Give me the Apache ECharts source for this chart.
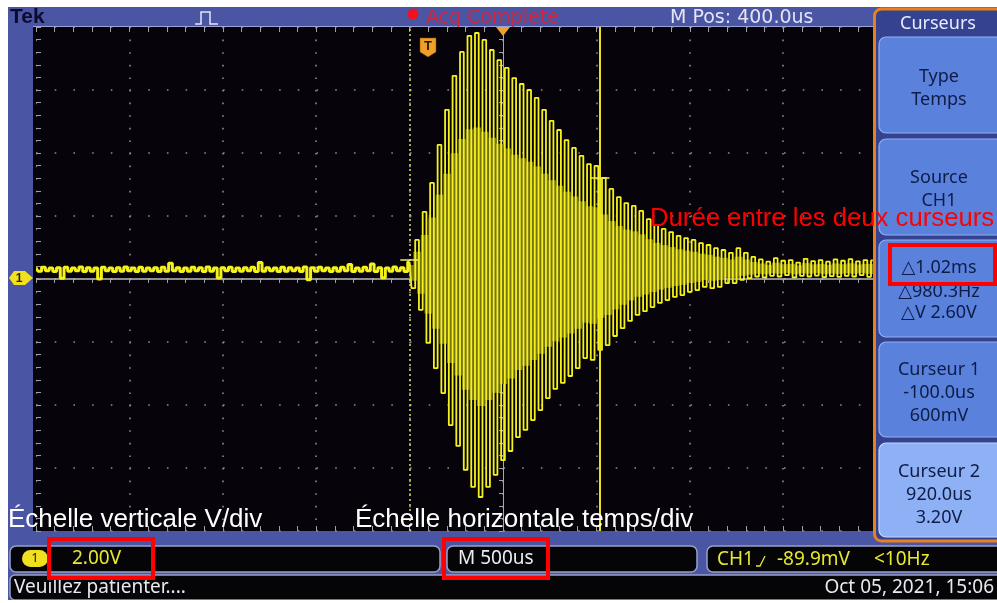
<!DOCTYPE html>
<html><head><meta charset="utf-8">
<script src="https://cdn.jsdelivr.net/npm/echarts@6/dist/echarts.min.js"></script>
<style>html,body{margin:0;padding:0;background:#fff;overflow:hidden}#c{width:997px;height:603px}</style>
</head><body><div id="c"></div>
<script>
// ---- acquisition (CH1, 2.00 V/div, 500 us/div, M Pos 400.0 us) ----
const sampleStartUs = -2100;
const sampleStepUs = 20;
const preTriggerVolts = [
 0.36,0.25,0.37,0.26,0.35,0.24,0.36,0.02,0.37,0.25,0.35,0.26,0.38,0.24,0.36,0.25,0.35,0.00,0.37,0.26,
 0.35,0.24,0.36,0.25,0.38,0.26,0.35,0.24,0.37,0.25,0.35,0.26,0.36,0.24,0.37,0.25,0.50,0.26,0.36,0.24,
 0.35,0.25,0.37,0.26,0.36,0.24,0.38,0.25,0.35,0.03,0.36,0.26,0.37,0.24,0.35,0.25,0.36,0.26,0.37,0.24,
 0.52,0.25,0.36,0.26,0.35,0.24,0.37,0.25,0.36,0.26,0.35,0.24,0.38,-0.02,0.36,0.25,0.37,0.26,0.35,0.24,
 0.36,0.25,0.37,0.26,0.46,0.24,0.35,0.25,0.37,0.26,0.48,0.24,0.36,0.04,0.35,0.25,0.38,0.26,0.36,0.24];
const burstVolts = [
 0.54,-0.29,1.24,-0.98,2.13,-2.03,3.05,-2.83,4.26,-3.62,
 5.37,-4.64,6.45,-5.30,7.21,-6.06,7.72,-6.60,7.81,-6.92,
 7.59,-6.60,7.27,-6.22,6.95,-5.75,6.70,-5.46,6.38,-5.02,
 6.19,-4.79,6.00,-4.48,5.75,-4.16,5.37,-3.78,5.02,-3.49,
 4.73,-3.30,4.41,-3.08,4.16,-2.83,3.91,-2.51,3.65,-2.57,
 3.59,-2.25,3.21,-2.10,2.86,-1.81,2.60,-1.56,2.41,-1.33,
 2.32,-1.14,2.16,-1.02,1.90,-0.89,1.71,-0.76,1.59,-0.67,
 1.49,-0.57,1.37,-0.51,1.30,-0.41,1.24,-0.35,1.14,-0.25,
 1.08,-0.29,0.98,-0.25,0.92,-0.13,0.83,-0.13,0.98,-0.03,
 0.83,0.03,0.70,
 0.08,0.62,0.05,0.55,0.10,0.66,0.08,0.58,0.12,0.60,0.05,0.52,0.10,0.64,0.08,0.57,
 0.11,0.60,0.06,0.55,0.09,0.62,0.07,0.58,0.10,0.63,0.08,0.56,0.12,0.60,0.07,0.59];
const cursorTimesUs = [-100, 920];
const cursorVolts = [0.6, 3.2];
const timeRangeUs = [-2100, 2900];
const voltRange = [-8, 8];
const divRange = [-5, 5];

// ---- texts ----
const panelTitle = 'Curseurs';
const panelButtons = [
  ['Type','Temps'],
  ['Source','CH1'],
  ['\u25B31.02ms','\u25B3980.3Hz','\u25B3V 2.60V'],
  ['Curseur 1','-100.0us','600mV'],
  ['Curseur 2','920.0us','3.20V']
];

const ch1Volts = preTriggerVolts.concat(burstVolts);
const ch1 = ch1Volts.map((v,i)=>[sampleStartUs + i*sampleStepUs, v]);
const nPre = preTriggerVolts.length;
const ch1Pre = ch1.slice(0, nPre + 1);
const ch1Burst = ch1.slice(nPre);
const bandData = [];
for (let i = nPre; i < ch1.length-1; i++) {
  bandData.push([ch1[i][0], ch1[i+1][0], ch1[i][1], ch1[i+1][1]]);
}

const UI = "'Noto Sans','DejaVu Sans',sans-serif";
const ARIAL = "'Liberation Sans',Arial,sans-serif";
const DV = "'DejaVu Sans',sans-serif";
function txt(text,x,y,font,fill,align,z){return {type:'text',z:z||120,silent:true,style:{text:text,x:x,y:y,font:font,fill:fill,textAlign:align||'left',textVerticalAlign:'middle'}};}
function rect(x,y,w,h,fill,stroke,lw,r,z){return {type:'rect',z:z||110,silent:true,shape:{x:x,y:y,width:w,height:h,r:r||0},style:{fill:fill||'none',stroke:stroke||null,lineWidth:lw||0}};}

const g = [];
// white margins
g.push(rect(0,0,997,7,'#ffffff',null,0,0,300));
g.push(rect(0,0,8,603,'#ffffff',null,0,0,300));
g.push(rect(0,600,997,3,'#ffffff',null,0,0,300));
// black strip left of grid
g.push(rect(33,27,3,504,'#06040a',null,0,0,5));
g.push({type:'line',z:110,silent:true,shape:{x1:33,y1:26.5,x2:874,y2:26.5},style:{stroke:'#9aa2d8',lineWidth:1}});
// top bar
g.push(txt('Tek',10,17,'bold 21px '+ARIAL,'#0b0b2c'));
g.push({type:'polyline',z:120,silent:true,shape:{points:[[195,24],[201,24],[201,12],[210,12],[210,24],[218,24]]},style:{stroke:'#e6e6f4',lineWidth:1.5,fill:null}});
g.push({type:'circle',z:120,silent:true,shape:{cx:413,cy:14,r:5.5},style:{fill:'#f01020'}});
g.push(txt('Acq Complete',426,18,'19px '+DV,'#d0263e'));
g.push(txt('M Pos: 400.0us',670,18,'19px '+DV,'#e4e4f4'));
// trigger markers
g.push({type:'polygon',z:120,silent:true,shape:{points:[[496,27],[510,27],[503,36]]},style:{fill:'#f0a030'}});
g.push({type:'polygon',z:120,silent:true,shape:{points:[[420,38],[436,38],[436,52],[428,57],[420,52]]},style:{fill:'#f0a028',stroke:'#7a4a00',lineWidth:0.5}});
g.push(txt('T',428,46,'bold 13px '+ARIAL,'#2a1800','center'));
// ground marker
g.push({type:'polygon',z:120,silent:true,shape:{points:[[14,271],[25,271],[33,278],[25,285],[14,285],[9,278]]},style:{fill:'#f0e020'}});
g.push(txt('1',19,278.5,'bold 12px '+ARIAL,'#2a2800','center'));
// side panel
g.push(rect(874.5,9,130,532,'#34428f','#e8801c',3,7,110));
g.push(txt(panelTitle,938,24,'18px '+UI,'#e8ecff','center'));
const btnY = [[37,96],[139,96],[240,97],[342,95],[443,94]];
const lineY = [[77,100],[178,201],[268,292,313],[370,393,416],[472,495,518]];
panelButtons.forEach((lines,b)=>{
  g.push(rect(879,btnY[b][0],125,btnY[b][1],b===4?'#8eb1f5':'#5a82dc',b===4?'#c4d6ff':'#92b0f4',1.2,7,111));
  lines.forEach((s,j)=>g.push(txt(s,939,lineY[b][j],'18px '+UI,'#0e1c46','center')));
});
// bottom status rows
g.push(rect(10,546,430,26,'#050508','#9aa0c8',1.5,6));
g.push(rect(22,550,26,17,'#f0e020',null,0,8.5,115));
g.push(txt('1',35,558.5,'13px '+UI,'#202000','center'));
g.push(txt('2.00V',72,559,'19px '+UI,'#e8e830'));
g.push(rect(447,546,250,26,'#050508','#9aa0c8',1.5,6));
g.push(txt('M 500us',458,559,'19px '+UI,'#ececf4'));
g.push(rect(707,546,300,26,'#050508','#9aa0c8',1.5,6));
g.push(txt('CH1',717,560,'19px '+UI,'#e8e830'));
g.push({type:'polyline',z:120,silent:true,shape:{points:[[756,566],[760,566],[765,556]]},style:{stroke:'#e8e830',lineWidth:1.3,fill:null}});
g.push(txt('-89.9mV',777,560,'19px '+UI,'#e8e830'));
g.push(txt('<10Hz',874,560,'19px '+UI,'#e8e830'));
g.push(rect(10,575,995,25,'#050508','#9aa0c8',1.5,5));
g.push(txt('Veuillez patienter....',14,588,'19px '+UI,'#e8e8f0'));
g.push(txt('Oct 05, 2021, 15:06',994,588,'19px '+UI,'#e8e8f0','right'));
// annotations
g.push(txt('\u00C9chelle verticale V/div',8,520,'26px '+ARIAL,'#ffffff','left',200));
g.push(txt('\u00C9chelle horizontale temps/div',355,520,'26px '+ARIAL,'#ffffff','left',200));
g.push(txt('Dur\u00E9e entre les deux curseurs',650,219,'25.7px '+ARIAL,'#ff0000','left',200));
g.push(rect(49,539,104,39,'none','#ff0000',4,0,210));
g.push(rect(444,539,104,39,'none','#ff0000',4,0,210));
g.push(rect(890,245,105,39,'none','#ff0000',4,0,210));

const chart = echarts.init(document.getElementById('c'), null, {renderer:'canvas'});
const tickCol = '#a0a0a0';
const traceCol = '#f4f21a';
chart.setOption({
  animation:false,
  backgroundColor:'#4a55a3',
  grid:{left:36,right:27,top:27,bottom:72,show:true,backgroundColor:'#06040a',borderWidth:0},
  xAxis:[
    {type:'value',min:divRange[0],max:divRange[1],interval:1,position:'top',
     axisLine:{show:false,onZero:false},
     axisTick:{show:true,inside:true,length:5,lineStyle:{color:tickCol}},
     minorTick:{show:true,splitNumber:5,length:5,lineStyle:{color:tickCol}},
     axisLabel:{show:false},
     splitLine:{show:true,lineStyle:{color:'#8c8c8c',width:1.6,type:[1.6,11.0]}}},
    {type:'value',min:timeRangeUs[0],max:timeRangeUs[1],interval:100,position:'bottom',
     axisLine:{show:true,onZero:true,onZeroAxisIndex:0,lineStyle:{color:'#bdbdbd',width:1.5}},
     axisTick:{show:true,length:4,lineStyle:{color:tickCol}},
     axisLabel:{show:false},splitLine:{show:false}},
    {type:'value',min:divRange[0],max:divRange[1],interval:1,position:'bottom',
     axisLine:{show:false,onZero:false},
     axisTick:{show:true,inside:true,length:5,lineStyle:{color:tickCol}},
     minorTick:{show:true,splitNumber:5,length:5,lineStyle:{color:tickCol}},
     axisLabel:{show:false},splitLine:{show:false}}
  ],
  yAxis:[
    {type:'value',min:voltRange[0],max:voltRange[1],interval:2,position:'left',
     axisLine:{show:true,onZero:true,onZeroAxisIndex:0,lineStyle:{color:'#a8a8a8',width:1}},
     axisTick:{show:true,length:4,lineStyle:{color:tickCol}},
     minorTick:{show:true,splitNumber:5,length:4,lineStyle:{color:tickCol}},
     axisLabel:{show:false},
     splitLine:{show:true,lineStyle:{color:'#8c8c8c',width:1.6,type:[1.6,17.1]}}},
    {type:'value',min:voltRange[0],max:voltRange[1],interval:2,position:'left',
     axisLine:{show:false,onZero:false},
     axisTick:{show:true,inside:true,length:5,lineStyle:{color:tickCol}},
     minorTick:{show:true,splitNumber:5,length:5,lineStyle:{color:tickCol}},
     axisLabel:{show:false},splitLine:{show:false}}
  ],
  series:[
    {type:'custom',xAxisIndex:1,yAxisIndex:0,z:1,silent:true,clip:true,
     data:bandData,encode:{x:[0,1],y:[2,3]},
     renderItem:function(params,api){
       const t0=api.value(0),t1=api.value(1),a=api.value(2),b=api.value(3);
       const base=0.3,k=0.6;
       const hi=base+k*(Math.max(a,b)-base), lo=base+k*(Math.min(a,b)-base);
       const p0=api.coord([t0,hi]), p1=api.coord([t1,lo]);
       return {type:'rect',shape:{x:p0[0],y:p0[1],width:p1[0]-p0[0]+0.6,height:p1[1]-p0[1]},style:{fill:'#787418'}};
     }},
    {type:'line',name:'CH1 pre',xAxisIndex:1,yAxisIndex:0,z:3,data:ch1Pre,step:'middle',
     showSymbol:false,symbol:'none',silent:true,lineStyle:{color:traceCol,width:3}},
    {type:'line',name:'CH1',xAxisIndex:1,yAxisIndex:0,z:3,data:ch1Burst,step:'middle',
     showSymbol:false,symbol:'none',silent:true,
     lineStyle:{color:traceCol,width:1.8},
     markLine:{silent:true,symbol:'none',label:{show:false},animation:false,
       data:[
         {xAxis:cursorTimesUs[0],lineStyle:{type:[2,3],color:'#e0dc70',width:1.5}},
         {xAxis:cursorTimesUs[1],lineStyle:{type:'solid',color:'#e8e020',width:2}},
         [{coord:[cursorTimesUs[0]-50,cursorVolts[0]]},{coord:[cursorTimesUs[0]+50,cursorVolts[0]],lineStyle:{type:'solid',color:'#f0ec60',width:1.5}}],
         [{coord:[cursorTimesUs[1]-50,cursorVolts[1]]},{coord:[cursorTimesUs[1]+50,cursorVolts[1]],lineStyle:{type:'solid',color:'#f0ec60',width:1.5}}]
       ]}}
  ],
  graphic:{elements:g}
});
</script></body></html>
